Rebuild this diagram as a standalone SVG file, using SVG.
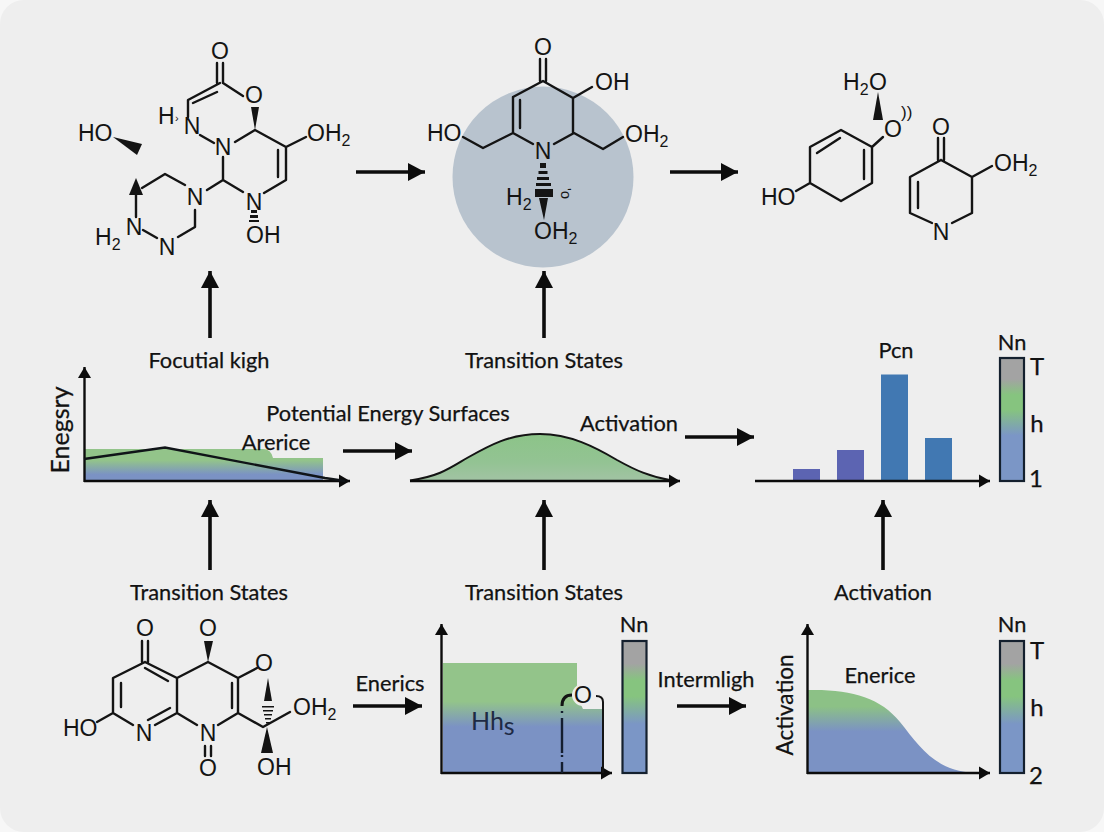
<svg xmlns="http://www.w3.org/2000/svg" width="1104" height="832" viewBox="0 0 1104 832">
<style>
.b{fill:none;stroke:#141414;stroke-width:2.4;stroke-linecap:round;stroke-linejoin:round}
.f{fill:#141414;stroke:none}
.a{font-family:"Liberation Sans",Arial,sans-serif;font-size:23px;fill:#141414}
.s{font-size:16px}
.l{font-family:Lato,"Open Sans",sans-serif;font-size:21.800px;fill:#121212;stroke:#121212;stroke-width:0.25;text-anchor:middle}
.k{font-size:24px}
.ar{stroke:#0c0c0c;stroke-width:3.6;fill:none;marker-end:url(#big)}
.ax{stroke:#0c0c0c;stroke-width:2.4;fill:none;marker-end:url(#small)}
.bar{stroke:#14202e;stroke-width:2.2}
</style>
<defs>
<marker id="big" markerUnits="userSpaceOnUse" markerWidth="18" markerHeight="20" refX="17" refY="10" orient="auto"><path d="M0,1 L17,10 L0,19 Z" fill="#0c0c0c"/></marker>
<marker id="small" markerUnits="userSpaceOnUse" markerWidth="12" markerHeight="14" refX="11" refY="7" orient="auto"><path d="M0,0.5 L11,7 L0,13.5 Z" fill="#0c0c0c"/></marker>
<linearGradient id="g1" x1="0" y1="449" x2="0" y2="481" gradientUnits="userSpaceOnUse"><stop offset="0" stop-color="#93c48a"/><stop offset="0.35" stop-color="#93c48a"/><stop offset="0.8" stop-color="#7b92c4"/><stop offset="1" stop-color="#7b92c4"/></linearGradient>
<linearGradient id="g2" x1="0" y1="434" x2="0" y2="481" gradientUnits="userSpaceOnUse"><stop offset="0" stop-color="#8cc488"/><stop offset="0.6" stop-color="#93c393"/><stop offset="1" stop-color="#a2c3a4"/></linearGradient>
<linearGradient id="g3" x1="0" y1="663" x2="0" y2="773" gradientUnits="userSpaceOnUse"><stop offset="0" stop-color="#93c48a"/><stop offset="0.35" stop-color="#93c48a"/><stop offset="0.58" stop-color="#7b92c4"/><stop offset="1" stop-color="#7b92c4"/></linearGradient>
<linearGradient id="g4" x1="0" y1="690" x2="0" y2="773" gradientUnits="userSpaceOnUse"><stop offset="0" stop-color="#8cc186"/><stop offset="0.2" stop-color="#8cc186"/><stop offset="0.5" stop-color="#7b92c4"/><stop offset="1" stop-color="#7b92c4"/></linearGradient>
<linearGradient id="cb" x1="0" y1="0" x2="0" y2="1"><stop offset="0" stop-color="#a3a3a3"/><stop offset="0.17" stop-color="#a3a3a3"/><stop offset="0.3" stop-color="#86c47f"/><stop offset="0.42" stop-color="#86c47f"/><stop offset="0.63" stop-color="#7b96c6"/><stop offset="1" stop-color="#7b96c6"/></linearGradient>
</defs>
<rect width="1104" height="832" fill="#f7f7f7"/>
<rect x="0" y="0" width="1104" height="832" rx="24" fill="#eeeeee"/>

<g id="connectors">
<path class="ar" d="M356,172H425"/><path class="ar" d="M670,172H738"/>
<path class="ar" d="M210,338V271"/><path class="ar" d="M544,338V271"/>
<path class="ar" d="M343,451H412"/><path class="ar" d="M685,437H754"/>
<path class="ar" d="M210,570V500"/><path class="ar" d="M544,570V500"/><path class="ar" d="M883,570V500"/>
<path class="ar" d="M353,706H422"/><path class="ar" d="M677,706H746"/>
</g>

<g id="mol-top-left">
<path class="b" d="M217,63V83M223,63V83M220,83L188,100V117M193,103L217,92M223,83L243,96M200,135L214,143M235,142L255,130L286,147L306,137M286,147V180L264,193M278,150V177M243,192L223,180V157M223,180L207,190M185,185L165,174L142,188M136,195V217M143,230L157,238M178,237L195,227V210"/>
<path class="f" d="M251,107H259L255,130Z"/><path class="f" d="M113,137L142,144L137,155Z"/><path class="f" d="M136,178L143,195H129Z"/>
<path class="f" d="M251,210H257V213H251ZM250,215H258V218H250ZM249,220H259V222H249Z"/>
<text class="a" x="220" y="59" text-anchor="middle">O</text>
<text class="a" x="254" y="103" text-anchor="middle">O</text>
<text class="a" x="158" y="124">H</text><text class="a s" x="175" y="122" style="font-size:11px">›</text>
<text class="a" x="192" y="134" text-anchor="middle">N</text>
<text class="a" x="223" y="155" text-anchor="middle">N</text>
<text class="a" x="307" y="141">OH<tspan class="s" dy="5">2</tspan></text>
<text class="a" x="78" y="141">HO</text>
<text class="a" x="195" y="205" text-anchor="middle">N</text>
<text class="a" x="254" y="210" text-anchor="middle">N</text>
<text class="a" x="246" y="243">OH</text>
<text class="a" x="134" y="235" text-anchor="middle">N</text>
<text class="a" x="167" y="255" text-anchor="middle">N</text>
<text class="a" x="95" y="245">H<tspan class="s" dy="5">2</tspan></text>
</g>

<g id="mol-top-center">
<circle cx="543" cy="177" r="90.5" fill="#b8c3ce"/>
<path class="b" d="M540,59V81M546,59V81M513,97L543,81L573,98L592,87M573,98V133M513,97V133M520,100V128M483,148L513,133L533,144M554,144L574,133L603,149L623,137M483,148L463,137"/>
<path class="f" d="M540,163H546V168H540ZM538.500,171H547.500V174H538.500ZM537,177H549V180H537ZM536,183H551V186H536ZM535,189H553V197H535Z"/>
<path class="f" d="M539,198H548L544,220Z"/>
<text class="a" x="543" y="55" text-anchor="middle">O</text>
<text class="a" x="595" y="90">OH</text>
<text class="a" x="427" y="141">HO</text>
<text class="a" x="625" y="142">OH<tspan class="s" dy="5">2</tspan></text>
<text class="a" x="543" y="159" text-anchor="middle">N</text>
<text class="a" x="506" y="205">H<tspan class="s" dy="5">2</tspan></text>
<text class="a" x="534" y="239">OH<tspan class="s" dy="5">2</tspan></text>
<text font-family="Liberation Sans,sans-serif" font-size="15" fill="#141414" transform="translate(561,188) rotate(90)">'o</text>
</g>

<g id="mol-top-right">
<path class="b" d="M883,137L872,147V183L841,201L810,183V147L841,130L872,147M817,153L840,138M864,150V179M796,191L810,183M938,138V160M944,138V160M941,160L910,177V213L932,223M918,182V208M941,160L972,177L992,166M972,177V213L952,223"/>
<path class="f" d="M878,92L883,120H873Z"/>
<text class="a" x="843" y="90">H<tspan class="s" dy="5">2</tspan></text>
<text class="a" x="878" y="90" text-anchor="middle">O</text>
<text class="a" x="893" y="137" text-anchor="middle">O</text>
<text font-family="Liberation Sans,sans-serif" font-size="17" fill="#141414" x="901" y="118">))</text>
<text class="a" x="761" y="205">HO</text>
<text class="a" x="941" y="135" text-anchor="middle">O</text>
<text class="a" x="994" y="171">OH<tspan class="s" dy="5">2</tspan></text>
<text class="a" x="941" y="240" text-anchor="middle">N</text>
</g>

<g id="label-row2">
<text class="l" x="209" y="368">Focutial kigh</text>
<text class="l" x="544" y="368">Transition States</text>
</g>

<g id="chart-surface">
<path d="M85,449H263Q271,449 273,458H323V481H85Z" fill="url(#g1)"/>
<path class="ax" d="M84.500,482V367"/><path class="ax" d="M84,481H350"/>
<path d="M84,459L165,447.500L325,478L345,481" fill="none" stroke="#101418" stroke-width="2.400"/>
<text class="l" style="font-size:25px" transform="translate(69,430) rotate(-90)">Enegsry</text>
<text class="l" x="276" y="450">Arerice</text>
<text class="l" x="388" y="421">Potential Energy Surfaces</text>
</g>

<g id="chart-bell">
<path d="M410,480.500C440,476 450,468 467,458C490,445 510,434 540,434C570,434 595,447 617,460C635,470 650,477 672,480.500Z" fill="url(#g2)"/>
<path d="M410,480.500C440,476 450,468 467,458C490,445 510,434 540,434C570,434 595,447 617,460C635,470 650,477 672,480.500" fill="none" stroke="#141414" stroke-width="2"/>
<path class="ax" d="M410,481H680"/>
<text class="l" x="629" y="431">Activation</text>
</g>

<g id="chart-bars">
<rect x="793" y="469" width="27" height="12" fill="#5c64b2"/>
<rect x="837" y="450" width="27" height="31" fill="#5c64b2"/>
<rect x="881" y="374.500" width="27" height="106.500" fill="#4178b2"/>
<rect x="925" y="438" width="27" height="43" fill="#4178b2"/>
<path class="ax" d="M755,481H990"/>
<rect class="bar" x="1000" y="358" width="24" height="123" fill="url(#cb)"/>
<text class="l" x="896" y="358">Pcn</text>
<text class="l" x="1012" y="350">Nn</text>
<text class="l k" x="1037" y="375">T</text>
<text class="l k" x="1037" y="432">h</text>
<text class="l k" x="1036" y="487">1</text>
</g>

<g id="label-row3">
<text class="l" x="209" y="600">Transition States</text>
<text class="l" x="544" y="600">Transition States</text>
<text class="l" x="883" y="600">Activation</text>
<text class="l" x="390" y="691">Enerics</text>
<text class="l" x="706" y="687">Intermligh</text>
</g>

<g id="mol-bottom">
<path class="b" d="M142,641V662M148,641V662M145,662L113,678V713L133,725M121,683V707M145,662L177,678V713L155,725M145,668L168,681M148,720L170,708M97,722L113,713M177,678L208,662L238,678V713L218,725M232,683V708M238,678L257,668M177,713L197,725M205,746V756M211,746V756M238,713L263,727L290,712"/>
<path class="f" d="M204,641H213L208,662Z"/><path class="f" d="M267,727L273,753H261Z"/><path class="f" d="M268,678L272,701H264Z"/>
<path class="f" d="M262,706H274V707.500H262ZM263,710H273V711.500H263ZM264,714H272V715.500H264ZM265,718H271V719.500H265ZM266,722H270V723.500H266Z"/>
<text class="a" x="145" y="636" text-anchor="middle">O</text>
<text class="a" x="208" y="636" text-anchor="middle">O</text>
<text class="a" x="264" y="671" text-anchor="middle">O</text>
<text class="a" x="63" y="736">HO</text>
<text class="a" x="144" y="741" text-anchor="middle">N</text>
<text class="a" x="208" y="741" text-anchor="middle">N</text>
<text class="a" x="208" y="776" text-anchor="middle">O</text>
<text class="a" x="293" y="715">OH<tspan class="s" dy="5">2</tspan></text>
<text class="a" x="257" y="775">OH</text>
</g>

<g id="chart-block">
<path d="M443,663H577V690Q578,700 583,709H603V773H443Z" fill="url(#g3)"/>
<ellipse cx="583" cy="695" rx="11" ry="11" fill="#eeeeee"/>
<path class="ax" d="M441.500,774V624"/><path class="ax" d="M441,773H612"/>
<path d="M562,773V762M562,753V718M562,713V711M562,757V755" fill="none" stroke="#141e30" stroke-width="2.400"/>
<path d="M562,706Q562,695 572,695" fill="none" stroke="#141414" stroke-width="3"/>
<path d="M596,696Q603,696 603,702V773" fill="none" stroke="#141414" stroke-width="2"/>
<text class="a" x="583" y="703" text-anchor="middle">O</text>
<text font-family="Lato,sans-serif" font-size="25" fill="#1e2a44" x="471" y="730">Hh<tspan dy="5">s</tspan></text>
<rect class="bar" x="622.500" y="641" width="24" height="132" fill="url(#cb)"/>
<text class="l" x="634" y="632">Nn</text>
</g>

<g id="chart-decay">
<path d="M808,690C850,689 880,697 900,722C920,747 935,771 975,773H808Z" fill="url(#g4)"/>
<path class="ax" d="M807.500,774V624"/><path class="ax" d="M807,773H990"/>
<rect class="bar" x="1000" y="641" width="24" height="132" fill="url(#cb)"/>
<text class="l" x="1012" y="632">Nn</text>
<text class="l k" x="1037" y="659">T</text>
<text class="l k" x="1037" y="716">h</text>
<text class="l k" x="1036" y="784">2</text>
<text class="l" x="880" y="683">Enerice</text>
<text class="l" style="font-size:22.500px" transform="translate(793,705) rotate(-90)">Activation</text>
</g>
</svg>
